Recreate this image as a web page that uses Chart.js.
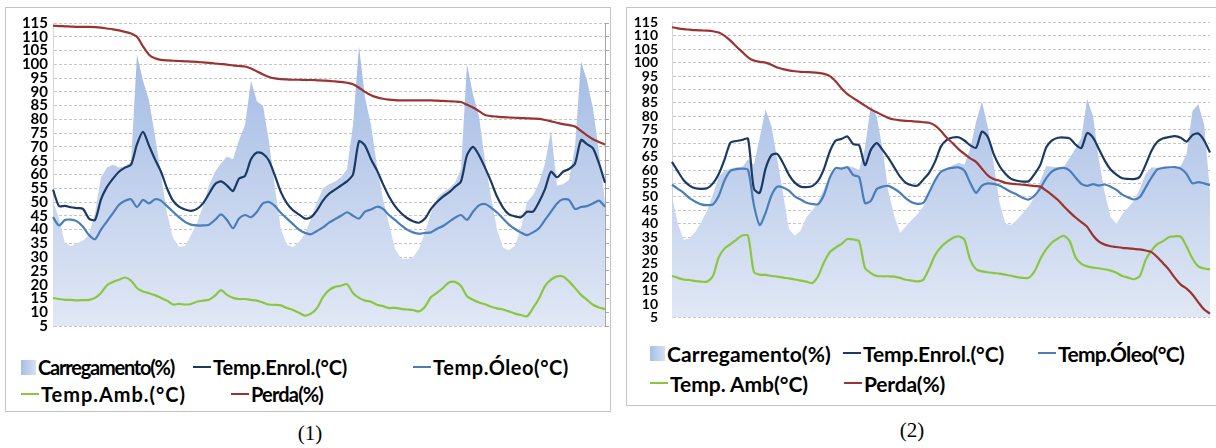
<!DOCTYPE html>
<html><head><meta charset="utf-8">
<script src="https://cdn.jsdelivr.net/npm/chart.js@4.4.0/dist/chart.umd.min.js"></script>
<style>
html,body{margin:0;padding:0;background:#fff;width:1216px;height:448px;overflow:hidden;position:relative;}
.panel{position:absolute;border:1px solid #c4c4c4;box-sizing:border-box;}
.cv{position:absolute;}
.leg{position:absolute;height:26px;display:flex;align-items:center;font-family:Lato,'Open Sans',sans-serif;font-weight:bold;color:#000;white-space:nowrap;}
.leg .ln{display:inline-block;width:18px;height:2px;margin-right:2px;}
.leg .sq{display:inline-block;width:15px;height:15px;margin-right:2px;background:linear-gradient(90deg,#a7bfe7,#d5e0f2);}
.cap{position:absolute;font-family:'Liberation Serif','Times New Roman',serif;font-size:21px;color:#000;transform:translateX(-50%);}
</style></head>
<body>
<div class="panel" style="left:5px;top:7px;width:606px;height:405px;"></div>
<div class="panel" style="left:626px;top:7px;width:600px;height:399px;"></div>
<canvas id="c1" class="cv" width="612" height="340" style="left:0;top:0;"></canvas>
<canvas id="c2" class="cv" width="590" height="340" style="left:626px;top:0;"></canvas>
<div class="cap" style="left:310px;top:421px;">(1)</div>
<div class="cap" style="left:912px;top:418px;">(2)</div>
<script>
// ---------- DATA ----------
const labels1 = ['Carregamento(%)', 'Temp.Enrol.(°C)', 'Temp.Óleo(°C)', 'Temp.Amb.(°C)', 'Perda(%)'];
const labels2 = ['Carregamento(%)', 'Temp.Enrol.(°C)', 'Temp.Óleo(°C)', 'Temp. Amb(°C)', 'Perda(%)'];
const yMin = 5, yMax = 115, yStep = 5;

// Panel (1)
const p1Carregamento = [50.5,44,35,34,35,36,38,46,59,62.5,63.5,62.5,63,64.5,103.5,94,87,74,60,46,37,33.8,34,38,42.5,48.5,56,61,64,66.5,65.5,72.5,
  78,94,86.5,85,72,55,40,34.5,33.6,35.5,38.5,44,50,55,56.5,57.5,59,62,78,106.5,88,78,63,51,42,33,29.5,29.3,30,33,39,
  46,51.5,53.5,55,57,62,100,89,81,65,52,40,33.5,32.5,34.2,40.5,50,52.5,57,64,76,56,56.5,58,70,101,94,84,68,50];
const p1Enrol = [54.5,48.5,48.6,48.1,47.8,47.5,44,43.5,51,55.5,58.5,61,62.5,63.5,71,75.5,70.5,65.5,61,55,50.5,48.3,47.3,46.8,47.5,49.5,53,56.5,57.5,56,54,58.5,
  59.5,65.5,68,67.5,65,59.5,53.5,49.5,47,45.5,44,44.5,47,50.5,53,54.5,56,57.5,60,72,70.5,65.5,61.5,56.5,52,48.5,46,44.2,43,42.5,44,
  47.5,50,52,53.5,55.5,57.5,67,70,67,62.5,57.5,52,48,45.5,44.8,44.5,46.5,46.5,50,54.7,61,59,61,62,64,72.5,71,69.5,64,57];
const p1Oleo = [44.5,41.5,43.5,43.6,43,41,38,36.5,40,43,46,49,50.5,51,48.2,50.8,49.5,51,50.5,48.5,46.5,44.5,42.8,41.8,41.5,41.5,41.8,43.5,45.5,43.5,40.5,44,
  45.3,44.5,46.5,49.5,50,48.5,46,44,42,40,38.8,38.3,39.5,40.8,42.5,43.8,45,46.3,45,44,46.5,47.3,48.3,47.5,45.3,43.5,41.6,40,39,38.5,38.8,
  39,40.3,41.3,42.8,44.3,45.3,43.5,46.5,48.8,49.3,48,46.2,44,41.8,40.2,38.9,38,39,40.5,43.5,46.5,49.5,51,50.8,47.5,48.2,48.5,49.5,50.5,48.3];
const p1Amb = [15.2,14.8,14.5,14.5,14.3,14.4,14.5,15.2,17,19.8,21,21.8,22.6,21.5,18.8,17.5,16.9,16.2,15.2,14.2,12.8,13,12.8,13,13.8,14.2,14.5,16,18,16.3,15.2,14.8,
  14.8,14.5,14.2,13.5,12.8,12.7,12.5,11.5,10.8,9.8,8.8,9.5,11.5,15.5,18,19.2,19.6,20.2,17,15.2,14.2,13.8,12.7,12.2,11.5,11.6,11.2,11,10.8,10.3,12,
  15.5,17,18.8,20.8,21,19.5,15.8,14.5,13.5,12.9,12,11.4,11,10.3,9.5,9,8.5,11.5,15,19.5,21.8,23,23,21.2,18.8,16.3,14.5,12.7,11.7,11.2];
const p1Perda = [114,113.9,113.8,113.7,113.6,113.6,113.6,113.5,113.3,113,112.7,112.3,111.8,111.2,110,106.5,103.5,102.2,101.6,101.4,101.3,101.2,101.1,101,100.9,100.7,100.5,100.3,100.1,99.9,99.6,99.4,
  99.2,98.5,97.4,96.3,95.4,94.9,94.6,94.5,94.4,94.4,94.3,94.3,94.2,94.1,94,93.8,93.6,93.3,92.8,91.5,90,88.8,88,87.5,87.2,87,86.9,86.9,86.9,86.9,86.9,
  86.9,86.8,86.7,86.6,86.5,86.3,85.3,84.3,83,81.6,81.2,81,80.8,80.7,80.6,80.5,80.4,80.3,80.2,79.8,79.3,78.8,78.3,77.9,77.4,75.8,74.2,72.8,71.8,70.9];

// Panel (2)
const p2Carregamento = [50,40,34,34.5,37,40.5,44.8,51,57.5,59.8,60.5,61,61,64,62,72,82.5,76.5,64,51,38,35.5,37.5,42.5,45,48.2,53,57.5,60,61,61.5,61,
  60,68.4,84,80,68,52,43,36.5,39,41.5,43.5,46.5,51.4,56,58.5,60.5,61.8,62.7,62,68,78,85.5,76,62.3,48,40,39.5,41.5,44,46.5,50,
  56,61.5,61.2,61,61.2,64.5,68,72,86.5,80,64,51.4,42.5,40,43.5,46,48.5,53,58.5,61,60.8,60.5,60.5,60.8,61.5,66,82,84.5,77,52];
const p2Enrol = [63,59.5,56.2,54.2,53.2,53,53.2,55,58.5,64,70.2,70.8,71.2,71.6,53,51.5,60.5,65.5,66,62.5,58.2,55.3,53.8,53.6,54,56,60.5,67,71,71.6,72.5,69.6,
  69.2,61.8,67.5,70,67.5,64.5,61,57.5,55.2,54.3,54.2,56.5,59,63.2,68.8,71.2,72.1,72.2,71,69.2,68.3,74.3,72.3,66,61.5,58.6,56.7,56,55.7,55.8,58.5,
  62,68.5,71,72,72.1,71.8,69.5,68.2,73.8,72.1,67.8,63.5,60.2,58.3,56.9,56.7,56.6,57.5,62,67.2,70.5,71.8,72.3,72.6,72,70.6,73,73.6,71,66.5];
const p2Oleo = [54.5,53,51.5,49.5,48.2,47.2,46.9,47.2,50.4,56.2,59.7,60.3,60.5,60,47,39.5,44,50.5,53.8,53.5,52.3,50.2,49,47.8,47.3,47.3,50.8,57.2,60.7,60.5,61,58.1,
  57.4,47.7,48.5,52.8,53.8,54.1,53,51.5,49.4,48,47.4,47.8,51.8,56.2,59.3,60.4,60.8,61,59.8,55.2,51.5,54.2,55,54.8,54.2,53,51.8,50.8,49.6,49,50.5,
  53.2,57,59.5,60.5,60.8,59.8,57.2,54.8,54.1,54.7,54.2,54.6,53.8,52.6,50.8,49.8,49,49.9,53.5,57.2,60.2,60.8,61,61.1,60.5,58.5,55,55.5,55,54.4];
const p2Amb = [20.5,19.8,19.2,19,18.6,18.4,18.4,20.5,27.5,30.8,32.4,34,35.6,35.5,22,21,20.9,20.5,20.3,19.9,19.6,19.2,18.8,18.4,17.9,20.5,25.6,29.4,31.1,32.5,34.3,34.1,
  33.4,23.5,21.6,20.5,20.4,20.4,20.3,19.8,19.1,18.8,18.5,19.2,23.4,28.3,31.3,33.2,34.7,35.3,34,26.5,23,22.2,21.9,21.6,21.4,21,20.6,20.1,19.8,19.8,22.2,
  26.9,30.5,33,34.5,35.5,33.5,27.5,25,24.1,23.6,23.4,23,22.5,21.7,20.5,19.9,19.3,20.5,26.5,30,32.4,33.5,35,35.3,35.2,31.5,27,24.1,23.3,23];
const p2Perda = [113.2,112.8,112.5,112.3,112.1,112,111.9,111.7,111.2,110,108.2,106,104,102,100.8,100.3,100,99.2,98.2,97.6,97.1,96.8,96.6,96.5,96.4,96.2,95.8,95,93,90.4,88.3,86.8,
  85.4,84,82.6,81.5,80.4,79.4,78.8,78.5,78.3,78.2,78,77.8,77.6,76.5,74.5,72,70,67.8,66,64.3,63,60.5,58,56.6,56,55.2,54.9,54.7,54.5,54.3,54,
  53.8,52.3,50.6,48.8,46.5,44.3,42.3,40.6,38.8,35.6,33.3,32.2,31.6,31.3,31,30.8,30.6,30.4,30,29.4,27.5,25.2,22.8,19.8,17.3,15.8,13.6,10.7,8,6.5];

// ---------- STYLE ----------
const colors = { enrol: '#1b3a63', oleo: '#4a7ebb', amb: '#8cc63f', perda: '#9b3431' };

function areaFill(ctx) {
  const chart = ctx.chart, area = chart.chartArea;
  if (!area) return '#c0d0ec';
  const g = chart.ctx.createLinearGradient(0, area.top, 0, area.bottom);
  g.addColorStop(0, '#9cb6e3');
  g.addColorStop(1, '#e1e8f5');
  return g;
}

function makeChart(id, labels, series, cfg) {
  const xLabels = series[0].map((_, i) => i);
  const line = (label, data, color, order) => ({
    type: 'line', label, data, borderColor: color, borderWidth: 2.2, pointRadius: 0,
    fill: false, tension: 0.25, order
  });
  return new Chart(document.getElementById(id), {
    type: 'line',
    data: {
      labels: xLabels,
      datasets: [
        { label: labels[0], data: series[0], borderWidth: 0, pointRadius: 0, fill: 'start',
          backgroundColor: areaFill, tension: 0, order: 10 },
        line(labels[1], series[1], colors.enrol, 4),
        line(labels[2], series[2], colors.oleo, 3),
        line(labels[3], series[3], colors.amb, 2),
        line(labels[4], series[4], colors.perda, 1)
      ]
    },
    options: {
      responsive: false, animation: false, devicePixelRatio: 1,
      layout: { padding: cfg.padding },
      plugins: { legend: { display: false }, tooltip: { enabled: false } },
      scales: {
        x: { display: false },
        y: {
          min: yMin, max: yMax,
          afterFit: s => { s.width = cfg.yWidth; },
          ticks: { stepSize: yStep, autoSkip: false, color: '#000', padding: cfg.tickPad,
                   font: { family: cfg.tickFont, weight: 'bold', size: cfg.tickSize } },
          grid: { color: '#c6c6c6', lineWidth: 1, drawTicks: false },
          border: { display: true, color: '#d4d4d4', dash: [3, 2] }
        },
        y2: {
          display: cfg.rightAxis, position: 'right', min: yMin, max: yMax,
          afterFit: s => { s.width = 5; },
          ticks: { display: false, stepSize: yStep },
          grid: { drawOnChartArea: false, drawTicks: true, tickLength: 4, color: '#a6a6a6' },
          border: { display: true, color: '#a6a6a6' }
        }
      }
    }
  });
}

makeChart('c1', labels1, [p1Carregamento, p1Enrol, p1Oleo, p1Amb, p1Perda],
  { padding: { top: 23, bottom: 13, left: 0, right: 2 }, yWidth: 53, tickPad: 5,
    tickFont: 'Lato', tickSize: 15, rightAxis: true });
makeChart('c2', labels2, [p2Carregamento, p2Enrol, p2Oleo, p2Amb, p2Perda],
  { padding: { top: 21, bottom: 18, left: 0, right: 1 }, yWidth: 46, tickPad: 14,
    tickFont: 'Lato', tickSize: 14, rightAxis: false });

// ---------- LEGENDS (HTML) ----------
const legendKinds = ['sq', colors.enrol, colors.oleo, colors.amb, colors.perda];
function legend(labels, pos, size, targets) {
  labels.forEach((t, i) => {
    const d = document.createElement('div');
    d.className = 'leg';
    d.style.fontSize = size + 'px';
    d.style.left = pos[i][0] + 'px';
    d.style.top = (pos[i][1] - 13) + 'px';
    const m = document.createElement('span');
    if (legendKinds[i] === 'sq') m.className = 'sq';
    else { m.className = 'ln'; m.style.background = legendKinds[i]; }
    d.appendChild(m);
    const s = document.createElement('span');
    s.textContent = t;
    d.appendChild(s);
    document.body.appendChild(d);
    if (targets[i]) {
      const w = s.getBoundingClientRect().width;
      s.style.letterSpacing = ((targets[i] - w) / t.length).toFixed(2) + 'px';
    }
  });
}
legend(labels1, [[21, 367], [193, 367], [413, 367], [21, 394], [231, 394]], 20, [136, 134, 136, 145, 72]);
legend(labels2, [[650, 353], [843, 353], [1038, 353], [650, 383], [844, 383]], 21, [164, 141, 126, 138, 81]);
</script>
</body></html>
